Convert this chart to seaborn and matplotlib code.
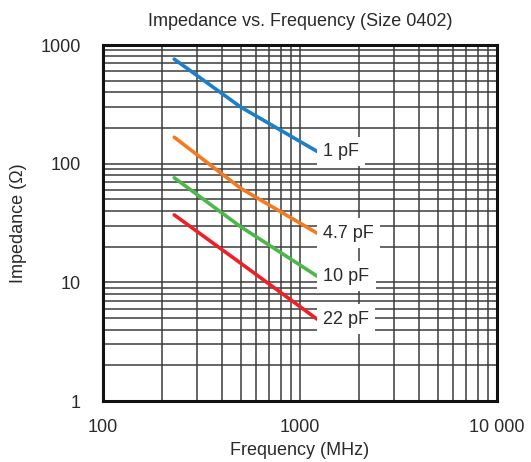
import numpy as np
import pandas as pd
import matplotlib
matplotlib.use("Agg")
import matplotlib.pyplot as plt
import matplotlib.ticker as mticker
import seaborn as sns

freq_mhz = [230, 500, 1220]
z_1pf = [760, 300, 127]
z_4p7pf = [167, 62, 26]
z_10pf = [76, 29.4, 11.3]
z_22pf = [37, 14.5, 4.9]
series_labels = ["1 pF", "4.7 pF", "10 pF", "22 pF"]
series_values = [z_1pf, z_4p7pf, z_10pf, z_22pf]
colors = ["#1b80c8", "#f47a20", "#4cb849", "#ee2026"]
label_freq = 1310

rows = []
for lab, vals in zip(series_labels, series_values):
    for f, z in zip(freq_mhz, vals):
        rows.append({"Frequency": f, "Impedance": z, "Cap": lab})
df = pd.DataFrame(rows)

sns.set_theme(style="white")
plt.rcParams['font.family'] = ['Liberation Sans', 'DejaVu Sans']

FS = 13
TXT = "#2a2a2a"

fig = plt.figure(figsize=(5.31, 4.62), dpi=100)
ax = fig.add_axes([103/531, 1-401/462, (497-103)/531, (401-45)/462])

sns.lineplot(data=df, x="Frequency", y="Impedance", hue="Cap",
             palette=dict(zip(series_labels, colors)), linewidth=2.6,
             legend=False, ax=ax, solid_capstyle="round")
ax.set_xscale("log")
ax.set_yscale("log")
ax.set_xlim(100, 10000)
ax.set_ylim(1, 1000)

ax.xaxis.set_major_locator(mticker.FixedLocator([100, 1000, 10000]))
ax.yaxis.set_major_locator(mticker.FixedLocator([1, 10, 100, 1000]))
ax.xaxis.set_minor_locator(mticker.LogLocator(base=10, subs=np.arange(2, 10)))
ax.yaxis.set_minor_locator(mticker.LogLocator(base=10, subs=np.arange(2, 10)))
ax.set_xticklabels(["100", "1000", "10 000"])
ax.set_yticklabels(["1", "10", "100", "1000"])
ax.xaxis.set_minor_formatter(mticker.NullFormatter())
ax.yaxis.set_minor_formatter(mticker.NullFormatter())
ax.grid(True, which="both", color="#3c3c3c", linewidth=1.1)
ax.set_axisbelow(True)
ax.tick_params(axis="both", which="both", length=0, labelsize=FS, colors=TXT)
ax.tick_params(axis="y", pad=16)
ax.tick_params(axis="x", pad=13)

for sp in ax.spines.values():
    sp.set_visible(True)
    sp.set_color("#111111")
    sp.set_linewidth(2.2)

for lab, vals in zip(series_labels, series_values):
    ax.text(label_freq, vals[-1], lab, ha="left", va="center", fontsize=FS,
            color=TXT, zorder=5,
            bbox=dict(boxstyle="square,pad=0.35", fc="white", ec="none"))

ax.set_title("Impedance vs. Frequency (Size 0402)", fontsize=FS, color=TXT, pad=14)
ax.set_xlabel("Frequency (MHz)", fontsize=FS, color=TXT, labelpad=4)
ax.set_ylabel("Impedance (Ω)", fontsize=FS, color=TXT, labelpad=10)

fig.savefig("out.png", dpi=100)
